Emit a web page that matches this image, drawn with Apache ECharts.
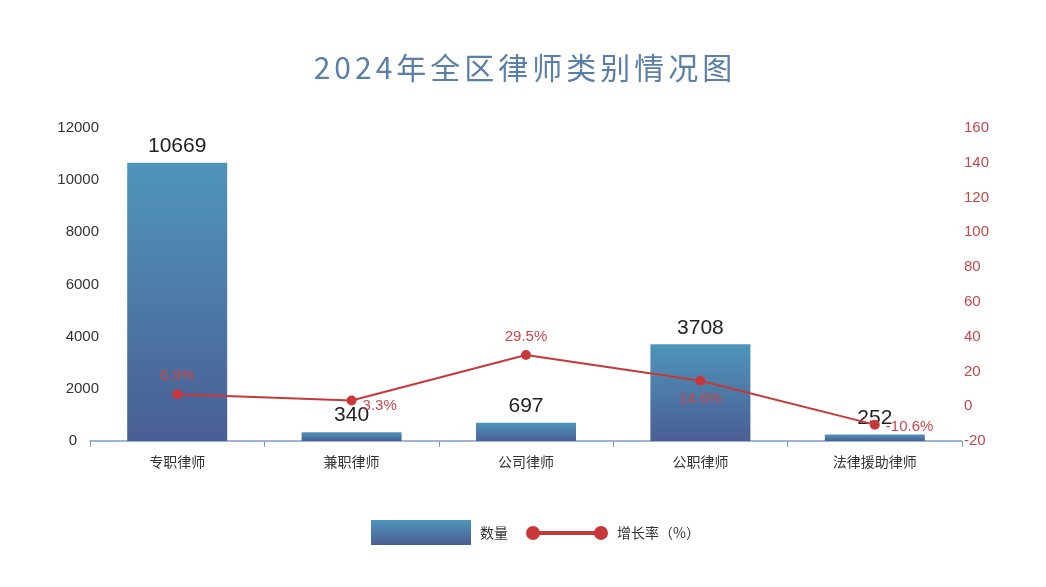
<!DOCTYPE html>
<html><head><meta charset="utf-8">
<script src="https://cdn.jsdelivr.net/npm/echarts@6/dist/echarts.min.js"></script>
<style>html,body{margin:0;padding:0;background:#fff}#c{width:1046px;height:587px}</style>
</head><body><div id="c"></div>
<script>
var titleText = '2024年全区律师类别情况图';
var categories = ['专职律师', '兼职律师', '公司律师', '公职律师', '法律援助律师'];
var counts = [10669, 340, 697, 3708, 252];
var growth = [6.9, 3.3, 29.5, 14.6, -10.6];
var growthLabelPos = ['top', 'right', 'top', 'bottom', 'right'];
var growthLabelOffset = [[0, 0], [0, 5], [0, 0], [0, 0], [0, 2]];
var leftTicks = {min: 0, max: 12000, interval: 2000};
var rightTicks = {min: -20, max: 160, interval: 20};

var chart = echarts.init(document.getElementById('c'));
var titleRich = titleText.split('').map(function(ch){return '{a|' + ch + '}';}).join('');
var barGrad = new echarts.graphic.LinearGradient(0, 0, 0, 1, [
  {offset: 0, color: '#4f95b9'}, {offset: 1, color: '#4a5e93'}
]);
var lineIcon = 'path://M0,7 A7,7 0 1,1 14,7 A7,7 0 1,1 0,7 Z M7,5 L75,5 L75,9 L7,9 Z M68,7 A7,7 0 1,1 82,7 A7,7 0 1,1 68,7 Z';
chart.setOption({
  backgroundColor: '#fff',
  title: {
    text: titleRich, left: 'center', top: 48,
    textStyle: {
      fontFamily: 'Noto Sans CJK SC', fontWeight: 'normal', fontSize: 30, color: '#5a7fa8',
      rich: {a: {fontFamily: 'Noto Sans CJK SC', fontSize: 30, color: '#5a7fa8', padding: [0, 2]}}
    }
  },
  grid: {left: 90, right: 84, top: 128, bottom: 146},
  legend: [{
    data: [{name: '数量', icon: 'rect'}], left: 371, top: 520, padding: 0, itemWidth: 100, itemHeight: 25, itemGap: 10,
    textStyle: {fontFamily: 'Noto Sans CJK SC', fontSize: 14, color: '#333', padding: [0, 0, 0, 4]}
  }, {
    data: [{name: '增长率（%）', icon: lineIcon, itemStyle: {color: '#c8383a'}}],
    left: 526, top: 526, padding: 0, itemWidth: 82, itemHeight: 14, itemGap: 10,
    textStyle: {fontFamily: 'Noto Sans CJK SC', fontSize: 14, color: '#333', padding: [0, 0, 0, 4]}
  }],
  xAxis: {
    type: 'category', data: categories,
    axisLine: {lineStyle: {color: '#7d9cc4', width: 1.5}},
    axisTick: {show: true, length: 6, lineStyle: {color: '#7d9cc4'}},
    axisLabel: {fontFamily: 'Noto Sans CJK SC', fontSize: 14, color: '#333', margin: 14}
  },
  yAxis: [{
    type: 'value', min: leftTicks.min, max: leftTicks.max, interval: leftTicks.interval,
    splitLine: {show: false}, axisLine: {show: false}, axisTick: {show: false},
    axisLabel: {fontFamily: 'Liberation Sans', fontSize: 15, color: '#333', margin: -9,
      formatter: function(v){return v === 0 ? '{z|0}' : String(v);},
      rich: {z: {fontFamily: 'Liberation Sans', fontSize: 15, color: '#333', padding: [0, 22, 0, 0]}}}
  }, {
    type: 'value', min: rightTicks.min, max: rightTicks.max, interval: rightTicks.interval,
    splitLine: {show: false}, axisLine: {show: false}, axisTick: {show: false},
    axisLabel: {fontFamily: 'Liberation Sans', fontSize: 15, color: '#c3484a', margin: 2}
  }],
  series: [{
    name: '数量', type: 'bar', data: counts, barWidth: 100,
    itemStyle: {color: barGrad},
    label: {show: true, position: 'top', fontFamily: 'Liberation Sans', fontSize: 21, color: '#222', distance: 6}
  }, {
    name: '增长率（%）', type: 'line', yAxisIndex: 1,
    data: growth.map(function(v, i){return {value: v, label: {position: growthLabelPos[i], offset: growthLabelOffset[i]}};}),
    symbol: 'circle', symbolSize: 10,
    lineStyle: {color: '#c8383a', width: 2}, itemStyle: {color: '#c8383a'},
    label: {show: true, formatter: '{c}%', fontFamily: 'Liberation Sans', fontSize: 15, color: '#c9474a', distance: 6}
  }]
});
</script></body></html>
